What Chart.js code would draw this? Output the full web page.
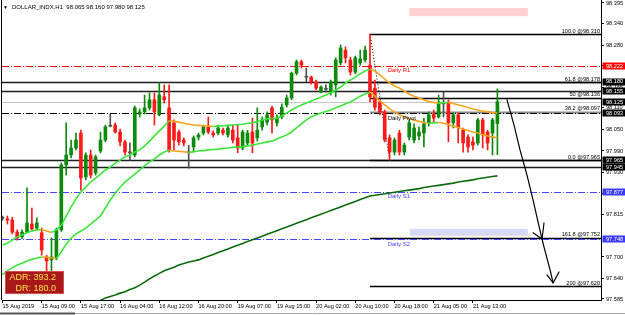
<!DOCTYPE html>
<html><head><meta charset="utf-8">
<script src="https://cdn.jsdelivr.net/npm/chart.js@4"></script>
<style>html,body{margin:0;padding:0;background:#fff;}#wrap{width:625px;height:315px;}</style>
</head><body><div id="wrap"><canvas id="c" width="625" height="315"></canvas></div>
<script>
// ---------- DATA ----------
const symbolTitle = 'DOLLAR_INDX,H1';
const timeTickBars = [0,8,16,24,32,40,48,56,64,72,80,88,96];
const timeLabels = ['15 Aug 2019','15 Aug 09:00','15 Aug 17:00','16 Aug 04:00','16 Aug 12:00','16 Aug 20:00','19 Aug 07:00','19 Aug 15:00','20 Aug 02:00','20 Aug 10:00','20 Aug 18:00','21 Aug 05:00','21 Aug 13:00'];
const yTicks = [98.395,98.340,98.280,98.225,98.165,98.110,98.050,97.990,97.930,97.875,97.815,97.700,97.640,97.585];

const opens = [97.807,97.804,97.801,97.768,97.755,97.768,97.790,97.779,97.766,97.700,
97.692,97.697,97.774,97.952,97.979,97.998,98.039,97.919,97.979,97.930,
97.990,98.020,98.058,98.061,98.042,98.015,97.987,97.979,98.091,98.097,
98.108,98.130,98.089,98.138,98.108,98.067,98.042,98.020,97.987,98.001,
98.028,98.039,98.056,98.039,98.039,98.047,98.034,98.047,98.026,97.998,
98.012,98.042,98.026,98.056,98.069,98.108,98.067,98.083,98.116,98.135,
98.203,98.234,98.192,98.192,98.179,98.151,98.160,98.151,98.171,98.231,
98.266,98.239,98.206,98.231,98.239,98.225,98.162,98.124,98.097,98.026,
97.987,98.039,97.987,98.028,98.020,98.031,98.039,98.067,98.091,98.083,
98.121,98.124,98.067,98.089,98.047,98.028,98.015,98.012,98.075,98.042,
98.039,98.065];
const highs = [97.812,97.812,97.809,97.774,97.774,97.889,97.834,97.807,97.779,97.705,
97.752,97.779,97.957,98.067,98.020,98.039,98.047,97.985,97.993,97.979,
98.042,98.061,98.091,98.067,98.050,98.020,98.012,98.113,98.105,98.143,
98.149,98.149,98.176,98.171,98.171,98.075,98.047,98.026,98.006,98.031,
98.039,98.061,98.083,98.045,98.061,98.053,98.061,98.061,98.061,98.047,
98.047,98.080,98.108,98.083,98.097,98.113,98.089,98.119,98.143,98.206,
98.239,98.239,98.217,98.195,98.184,98.168,98.171,98.184,98.245,98.280,
98.275,98.247,98.250,98.266,98.277,98.310,98.184,98.130,98.102,98.034,
98.026,98.047,98.012,98.075,98.064,98.056,98.080,98.097,98.102,98.143,
98.151,98.130,98.094,98.094,98.053,98.034,98.028,98.080,98.080,98.047,
98.080,98.160];
const lows = [97.801,97.790,97.763,97.746,97.750,97.766,97.774,97.774,97.705,97.659,
97.659,97.692,97.770,97.924,97.971,97.993,97.883,97.911,97.916,97.924,
97.985,98.015,98.056,98.039,98.004,97.979,97.965,97.974,98.083,98.091,
98.102,98.061,98.086,98.121,97.987,97.993,98.006,98.004,97.943,97.987,
98.020,98.034,98.037,98.028,98.034,98.034,98.028,98.012,97.985,97.993,
98.006,97.985,98.017,98.047,98.061,98.039,98.058,98.078,98.110,98.130,
98.198,98.217,98.179,98.173,98.157,98.149,98.151,98.143,98.138,98.225,
98.231,98.198,98.201,98.225,98.234,98.124,98.102,98.089,98.015,97.965,
97.979,97.979,97.979,98.020,98.012,98.020,98.001,98.058,98.069,98.080,
98.083,98.015,98.053,98.012,97.987,97.987,97.993,98.006,97.998,97.993,
97.979,97.980];
const closes = [97.806,97.801,97.768,97.752,97.768,97.793,97.777,97.793,97.719,97.689,
97.700,97.774,97.952,97.979,97.998,98.020,97.916,97.979,97.924,97.974,
98.020,98.056,98.059,98.042,98.015,97.987,97.985,98.108,98.097,98.108,
98.130,98.097,98.143,98.130,97.993,98.020,98.015,98.012,97.985,98.026,
98.034,98.056,98.042,98.034,98.053,98.039,98.053,98.020,97.998,98.042,
98.039,98.012,98.047,98.075,98.089,98.075,98.080,98.110,98.135,98.203,
98.234,98.225,98.193,98.179,98.162,98.165,98.159,98.179,98.239,98.272,
98.245,98.206,98.245,98.242,98.266,98.138,98.110,98.097,98.020,97.987,
98.020,97.987,98.006,98.067,98.053,98.042,98.064,98.089,98.080,98.124,
98.119,98.067,98.089,98.056,98.012,98.001,98.006,98.075,98.034,98.012,
98.075,98.125];

const maFast = [97.733,97.738,97.746,97.755,97.760,97.766,97.771,97.774,97.775,97.771,
97.767,97.774,97.787,97.812,97.837,97.859,97.878,97.891,97.905,97.916,
97.927,97.938,97.946,97.957,97.965,97.974,97.979,97.987,97.993,98.004,
98.017,98.031,98.045,98.058,98.072,98.071,98.069,98.066,98.063,98.061,
98.060,98.059,98.058,98.057,98.058,98.059,98.060,98.061,98.062,98.063,
98.065,98.067,98.071,98.075,98.078,98.079,98.080,98.086,98.094,98.102,
98.110,98.116,98.121,98.127,98.132,98.138,98.143,98.149,98.157,98.165,
98.176,98.184,98.192,98.201,98.209,98.214,98.209,98.198,98.187,98.176,
98.168,98.162,98.154,98.146,98.140,98.135,98.130,98.125,98.123,98.121,
98.122,98.123,98.120,98.116,98.113,98.109,98.105,98.102,98.099,98.097,
98.095,98.094];
const maSlow = [97.651,97.662,97.670,97.678,97.683,97.689,97.694,97.697,97.700,97.699,
97.697,97.696,97.714,97.735,97.752,97.763,97.771,97.779,97.790,97.801,
97.812,97.834,97.856,97.875,97.891,97.905,97.916,97.927,97.938,97.949,
97.960,97.968,97.979,97.987,97.992,97.990,97.989,97.988,97.986,97.988,
97.990,97.991,97.993,97.994,97.995,97.997,97.998,98.000,98.001,98.002,
98.004,98.006,98.009,98.012,98.015,98.017,98.023,98.028,98.034,98.042,
98.053,98.064,98.075,98.083,98.089,98.094,98.098,98.102,98.108,98.113,
98.119,98.124,98.132,98.140,98.146,98.151,98.140,98.127,98.116,98.105,
98.097,98.089,98.083,98.078,98.074,98.071,98.068,98.066,98.067,98.068,
98.066,98.062,98.058,98.054,98.050,98.046,98.042,98.039,98.035,98.031,
98.028,98.026];
const ma200 = [null,null,null,null,null,null,null,null,null,null,
null,null,null,null,null,null,null,null,null,97.575,
97.581,97.588,97.592,97.596,97.601,97.605,97.611,97.616,97.623,97.631,
97.640,97.648,97.655,97.662,97.667,97.672,97.678,97.682,97.686,97.689,
97.692,97.697,97.702,97.707,97.712,97.717,97.722,97.727,97.732,97.737,
97.742,97.747,97.752,97.757,97.762,97.767,97.772,97.777,97.782,97.787,
97.792,97.797,97.802,97.807,97.812,97.817,97.822,97.827,97.832,97.837,
97.842,97.847,97.852,97.857,97.862,97.867,97.869,97.871,97.873,97.875,
97.877,97.879,97.881,97.883,97.885,97.887,97.890,97.892,97.894,97.896,
97.898,97.900,97.902,97.905,97.907,97.909,97.911,97.914,97.916,97.918,
97.920,97.922];

const pivotNames = ['Daily R1','Daily Pivot','Daily S1','Daily S2'];
const pivotValues = [98.222, 98.093, 97.877, 97.748];
const zoneValues = [98.180, 98.155, 97.965, 97.945];
const bidValue = 98.125;
const fibNames = ['100.0','61.8','50','38.2','0.0','161.8','200'];
const fibValues = [98.310, 98.178, 98.136, 98.097, 97.965, 97.752, 97.620];
const fibAnchorBars = [75, 79];            // high bar, low bar of the swing
const fibAnchorPrices = [98.310, 97.965];
const rectBars = [[83.0, 107.2], [83.2, 107.2]];
const rectPrices = [[98.381, 98.359], [97.777, 97.758]];
const arrowPaths = [
  [[102.96,98.130],[104.39,98.061],[105.61,97.993],[107.04,97.924],[108.27,97.856],[109.29,97.796],[110.10,97.749]],
  [[108.27,97.766],[110.10,97.749],[110.51,97.793]],
  [[110.10,97.749],[110.94,97.705],[111.76,97.664],[112.37,97.629]],
  [[111.12,97.651],[112.37,97.629],[113.57,97.659]]
];
const adrText = ['ADR: 393.2', 'DR: 180.0'];

// ---------- STYLE ----------
const LIME='#39e639', ORANGE='#f5a31a', DKGREEN='#0d6a0d';
const BULL='#0b8a0b', BEAR='#ff1a1a', DOJI='#505050';
const FONT='"Liberation Sans", Arial, sans-serif';
const pivotColors = ['#ff0000','#000000','#4646ff','#4646ff'];
const rectColors = ['#ffd0d0','#d6daf8'];

const bars = opens.map((_, i) => i);
const candleColor = bars.map(i => Math.abs(closes[i]-opens[i]) < 0.0025 ? DOJI : (closes[i] > opens[i] ? BULL : BEAR));

const overlay = {
  id: 'overlay',
  beforeDatasetsDraw(chart) {
    const {ctx, chartArea: a, scales: {x, y}} = chart;
    const Y = v => Math.round(y.getPixelForValue(v)) + 0.5;
    ctx.save();
    ctx.beginPath(); ctx.rect(a.left, a.top, a.right - a.left, a.bottom - a.top); ctx.clip();
    rectBars.forEach((rb, k) => {
      const x1 = x.getPixelForValue(rb[0]), x2 = x.getPixelForValue(rb[1]);
      const y1 = y.getPixelForValue(rectPrices[k][0]), y2 = y.getPixelForValue(rectPrices[k][1]);
      ctx.fillStyle = rectColors[k]; ctx.fillRect(x1, y1, x2 - x1, y2 - y1);
    });
    const hline = (py, x1, x2, col, w, dash) => {
      ctx.beginPath(); ctx.setLineDash(dash); ctx.strokeStyle = col; ctx.lineWidth = w;
      ctx.moveTo(x1, py); ctx.lineTo(x2, py); ctx.stroke();
    };
    hline(Y(bidValue), a.left, a.right, '#c4c4c4', 1, []);
    zoneValues.forEach(v => hline(Y(v), a.left, a.right, '#1e1e1e', 1.6, []));
    const fx = x.getPixelForValue(fibAnchorBars[0]);
    fibValues.forEach((v, k) => {
      if (fibNames[k] === '38.2') hline(Y(v), fx, a.right, '#8a8a8a', 2.2, []);
      else hline(Y(v), fx, a.right, '#000', 1.4, []);
    });
    pivotValues.forEach((v, k) => hline(Y(v), a.left, a.right, pivotColors[k], 1, [7,2,1,2]));
    // fibo trend (dotted)
    ctx.beginPath(); ctx.setLineDash([1,2]); ctx.strokeStyle = '#000'; ctx.lineWidth = 1;
    ctx.moveTo(x.getPixelForValue(fibAnchorBars[0]), y.getPixelForValue(fibAnchorPrices[0]));
    ctx.lineTo(x.getPixelForValue(fibAnchorBars[1]), y.getPixelForValue(fibAnchorPrices[1]));
    ctx.stroke();
    ctx.restore();
  },
  afterDatasetsDraw(chart) {
    const {ctx, chartArea: a, scales: {x, y}} = chart;
    ctx.save();
    ctx.beginPath(); ctx.rect(a.left, a.top, a.right - a.left, a.bottom - a.top); ctx.clip();
    // arrows
    ctx.setLineDash([]); ctx.strokeStyle = '#000'; ctx.lineWidth = 1.2; ctx.lineJoin = 'round'; ctx.lineCap = 'round';
    arrowPaths.forEach(p => {
      ctx.beginPath();
      p.forEach((pt, j) => {
        const px = x.getPixelForValue(pt[0]), py = y.getPixelForValue(pt[1]);
        if (j === 0) ctx.moveTo(px, py); else ctx.lineTo(px, py);
      });
      ctx.stroke();
    });
    // pivot labels
    ctx.font = '6px ' + FONT; ctx.textBaseline = 'top'; ctx.textAlign = 'left';
    const lx = x.getPixelForValue(78.6);
    pivotValues.forEach((v, k) => {
      ctx.fillStyle = pivotColors[k];
      ctx.fillText(pivotNames[k], lx, y.getPixelForValue(v) + 1.5);
    });
    // fibo labels
    ctx.font = '5.6px ' + FONT; ctx.textBaseline = 'alphabetic'; ctx.textAlign = 'right'; ctx.fillStyle = '#000';
    fibValues.forEach((v, k) => {
      ctx.fillText(fibNames[k] + ' @' + v.toFixed(3), a.right - 1, y.getPixelForValue(v) - 1.5);
    });
    ctx.restore();
  },
  afterDraw(chart) {
    const {ctx, chartArea: a, scales: {y}} = chart;
    ctx.save();
    // price boxes on the axis
    const boxes = [];
    boxes.push([pivotValues[0], '#ff0000']);
    zoneValues.forEach(v => boxes.push([v, '#000']));
    boxes.push([bidValue, '#000']);
    boxes.push([pivotValues[1], '#000']);
    boxes.push([pivotValues[2], '#3a3aff']);
    boxes.push([pivotValues[3], '#3a3aff']);
    ctx.font = '5.6px ' + FONT; ctx.textBaseline = 'middle'; ctx.textAlign = 'left';
    boxes.forEach(([v, col]) => {
      const py = y.getPixelForValue(v);
      ctx.fillStyle = col; ctx.fillRect(a.right + 1.5, Math.round(py) - 3.5, 625 - a.right, 7);
      ctx.fillStyle = '#fff'; ctx.fillText(v.toFixed(3), a.right + 5, py + 0.3);
    });
    // frame
    ctx.strokeStyle = '#000'; ctx.lineWidth = 1; ctx.setLineDash([]);
    ctx.beginPath(); ctx.moveTo(a.left - 0.5, 0); ctx.lineTo(a.left - 0.5, a.bottom); ctx.stroke();
    // bottom strip
    ctx.strokeStyle = '#a8a8a8'; ctx.beginPath(); ctx.moveTo(0, 313.5); ctx.lineTo(625, 313.5); ctx.stroke();
    ctx.strokeStyle = '#555'; ctx.lineWidth = 2; ctx.beginPath(); ctx.moveTo(0, 313.5); ctx.lineTo(75, 313.5); ctx.stroke();
    // title
    ctx.fillStyle = '#000'; ctx.textBaseline = 'middle'; ctx.textAlign = 'left';
    ctx.font = '5px ' + FONT; ctx.fillText('\u25BC', 3, 7.5);
    ctx.font = '6px ' + FONT;
    const last = opens.length - 1;
    ctx.fillText(symbolTitle + '  ' + opens[last].toFixed(3) + ' ' + highs[last].toFixed(3) + ' ' + lows[last].toFixed(3) + ' ' + closes[last].toFixed(3), 12, 7.5);
    // ADR box
    ctx.fillStyle = '#a81818'; ctx.fillRect(5, 271, 59, 23);
    ctx.strokeStyle = '#d05050'; ctx.lineWidth = 1; ctx.strokeRect(5.5, 271.5, 58, 22);
    ctx.fillStyle = '#ffe14d'; ctx.font = '9px ' + FONT; ctx.textAlign = 'right';
    ctx.fillText(adrText[0], 56, 278);
    ctx.fillText(adrText[1], 56, 288.5);
    ctx.restore();
  }
};

new Chart(document.getElementById('c'), {
  type: 'bar',
  data: {
    datasets: [
      { type: 'line', data: bars.map(i => ({x: i, y: maFast[i]})), borderColor: LIME, borderWidth: 1.6, pointRadius: 0,
        segment: { borderColor: c => c.p1.parsed.y < c.p0.parsed.y ? ORANGE : LIME }, order: 0 },
      { type: 'line', data: bars.map(i => ({x: i, y: maSlow[i]})), borderColor: LIME, borderWidth: 1.6, pointRadius: 0,
        segment: { borderColor: c => c.p1.parsed.y < c.p0.parsed.y ? ORANGE : LIME }, order: 0 },
      { type: 'line', data: bars.map(i => ({x: i, y: ma200[i]})), borderColor: DKGREEN, borderWidth: 1.6, pointRadius: 0, order: 0 },
      { type: 'bar', data: bars.map(i => ({x: i, y: [opens[i], closes[i]]})), backgroundColor: candleColor,
        barThickness: 3, grouped: false, minBarLength: 1, borderWidth: 0, order: 1 },
      { type: 'bar', data: bars.map(i => ({x: i, y: [lows[i], highs[i]]})), backgroundColor: candleColor,
        barThickness: 1, grouped: false, borderWidth: 0, order: 2 }
    ]
  },
  options: {
    responsive: false, animation: false, events: [],
    layout: { padding: { left: 2, top: 0, right: 0, bottom: 0 } },
    plugins: { legend: { display: false }, tooltip: { enabled: false } },
    scales: {
      x: {
        type: 'linear', min: -0.1, max: 122.14, offset: false,
        grid: { offset: false, drawOnChartArea: false, drawTicks: true, tickLength: 3, color: '#000' },
        border: { display: true, color: '#000' },
        afterBuildTicks: s => { s.ticks = timeTickBars.map(v => ({value: v})); },
        ticks: { autoSkip: false, maxRotation: 0, minRotation: 0, align: 'start', padding: 0, color: '#000',
          font: { size: 5.6, family: FONT },
          callback: v => { const k = timeTickBars.indexOf(v); return k >= 0 ? timeLabels[k] : ''; } },
        afterFit: s => { s.height = 15; s.paddingLeft = 0; s.paddingRight = 0; }
      },
      y: {
        position: 'right', min: 97.5822, max: 98.4032, beginAtZero: false,
        grid: { drawOnChartArea: false, drawTicks: true, tickLength: 3, color: '#000' },
        border: { display: true, color: '#000' },
        afterBuildTicks: s => { s.ticks = yTicks.map(v => ({value: v})); },
        ticks: { padding: 2, color: '#000', font: { size: 5.6, family: FONT }, callback: v => v.toFixed(3) },
        afterFit: s => { s.width = 24; s.paddingTop = 0; s.paddingBottom = 0; }
      }
    }
  },
  plugins: [overlay]
});
</script>
</body></html>
